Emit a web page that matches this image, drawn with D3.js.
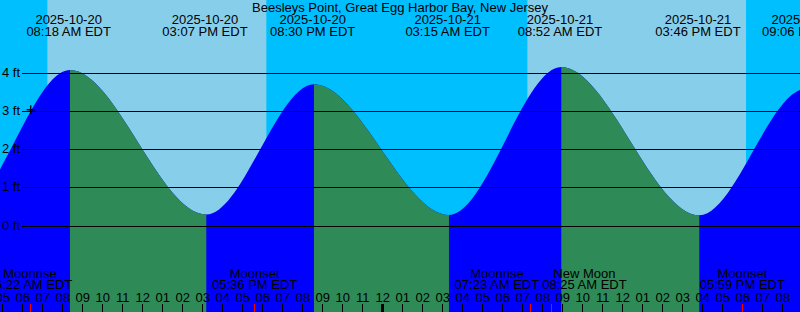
<!DOCTYPE html>
<html><head><meta charset="utf-8">
<script src="https://cdn.jsdelivr.net/npm/d3@7"></script>
<style>html,body{margin:0;padding:0;overflow:hidden;background:#00BFFF}svg{display:block}</style>
</head><body><svg id="c" width="800" height="312"></svg>
<script>
// ---- data ----
const title = "Beesleys Point, Great Egg Harbor Bay, New Jersey";
const tideTimes = ["2025-10-19 20:05","2025-10-20 02:45","2025-10-20 08:18","2025-10-20 15:07","2025-10-20 20:30","2025-10-21 03:15","2025-10-21 08:52","2025-10-21 15:46","2025-10-21 21:06","2025-10-22 03:50"];
const tideHeights = [3.70, 0.32, 4.09, 0.30, 3.72, 0.29, 4.17, 0.28, 3.60, 0.30];
const sunriseTimes = ["2025-10-20 07:14","2025-10-21 07:14"];
const sunsetTimes = ["2025-10-20 18:11","2025-10-21 18:10"];
const moonTimes = ["2025-10-20 06:22","2025-10-20 17:36","2025-10-21 07:23","2025-10-21 08:25","2025-10-21 17:59"];
const moonEvents = ["Moonrise","Moonset","Moonrise","New Moon","Moonset"];
const levelTicks = [0, 1, 2, 3, 4];
const levelLabels = ["0 ft","1 ft","2 ft","3 ft","4 ft"];
const markTime = "2025-10-20 06:24", markLevel = 3.05;
const timeStart = "2025-10-20 04:52", timeEnd = "2025-10-21 20:52";

// ---- setup ----
const W = 800, H = 312;
const parse = d3.timeParse("%Y-%m-%d %H:%M");
const fDate = d3.timeFormat("%Y-%m-%d");
const fTime = d3.timeFormat("%I:%M %p EDT");
const fHour = d3.timeFormat("%I");
const C = {night:"#00BFFF", day:"#87CEEB", flood:"#0000FF", ebb:"#2E8B57"};
const FONT = "'Liberation Sans', Arial, sans-serif";

const x = d3.scaleTime().domain([parse(timeStart), parse(timeEnd)]).range([0, W]);
const y = d3.scaleLinear().domain([0, 4]).range([226, 73.5]);
const tides = tideTimes.map((t, i) => ({t: parse(t), h: tideHeights[i]}));
const shift = 1.3;

const svg = d3.select("#c");
const defs = svg.append("defs");

// sky
svg.append("rect").attr("width", W).attr("height", H).attr("fill", C.night);
svg.selectAll("rect.day").data(sunriseTimes).join("rect").attr("class","day")
  .attr("x", (d) => x(parse(d)))
  .attr("width", (d, i) => x(parse(sunsetTimes[i])) - x(parse(d)))
  .attr("y", 0).attr("height", H).attr("fill", C.day);

// water
const area = d3.area().x(d => x(d.t)).y0(H).y1(d => y(d.h)).curve(d3.curveMonotoneX);
const wg = svg.append("g").attr("transform", `translate(${shift},0)`);
const ebbs = tides.slice(0, -1).map((d, i) => ({a: d.t, b: tides[i+1].t, falling: tides[i+1].h < d.h})).filter(d => d.falling);
defs.append("clipPath").attr("id", "ebbclip").selectAll("rect").data(ebbs).join("rect")
  .attr("x", d => x(d.a)).attr("width", d => x(d.b) - x(d.a)).attr("y", 0).attr("height", H);
wg.append("path").datum(tides).attr("d", area).attr("fill", C.flood);
wg.append("path").datum(tides).attr("d", area).attr("fill", C.ebb).attr("clip-path", "url(#ebbclip)");

// level lines & labels
svg.selectAll("line.lvl").data(levelTicks).join("line").attr("class","lvl")
  .attr("x1", 22).attr("x2", W)
  .attr("y1", d => Math.floor(y(d)) + 0.5).attr("y2", d => Math.floor(y(d)) + 0.5)
  .attr("stroke", "#000").attr("stroke-width", 1);
svg.selectAll("text.lvl").data(levelTicks).join("text").attr("class","lvl")
  .attr("x", 2).attr("y", d => Math.floor(y(d)) + 4)
  .attr("font-family", FONT).attr("font-size", 13).attr("fill", "#000")
  .text((d, i) => levelLabels[i]);

// mark
const mx = x(parse(markTime)), my = y(markLevel);
svg.append("path").attr("d", `M${mx-4},${my}H${mx+4}M${mx},${my-4.5}V${my+4.5}`)
  .attr("stroke", "#000").attr("stroke-width", 1.4).attr("fill", "none");

// title
svg.append("text").attr("x", W/2).attr("y", 12).attr("text-anchor", "middle")
  .attr("font-family", FONT).attr("font-size", 13).attr("fill", "#000").text(title);

// tide event labels
const shown = tides.filter(d => x(d.t) > -10 && x(d.t) < W + 10);
const tl = svg.append("g").attr("font-family", FONT).attr("font-size", 13).attr("text-anchor", "middle").attr("fill", "#000");
shown.forEach(d => {
  tl.append("text").attr("x", x(d.t)).attr("y", 24).text(fDate(d.t));
  tl.append("text").attr("x", x(d.t)).attr("y", 36).text(fTime(d.t));
});

// moon labels (pushed apart when they collide)
const ml = svg.append("g").attr("font-family", FONT).attr("font-size", 13).attr("text-anchor", "middle").attr("fill", "#000");
const moonLabs = moonTimes.map((t, i) => {
  const d = parse(t);
  const a = ml.append("text").attr("y", 278).text(moonEvents[i]);
  const b = ml.append("text").attr("y", 289).text(fTime(d));
  const w = Math.max(a.node().getComputedTextLength(), b.node().getComputedTextLength());
  return {cx: x(d), w, a, b};
}).sort((p, q) => p.cx - q.cx);
for (let iter = 0; iter < 10; iter++) {
  for (let i = 0; i < moonLabs.length - 1; i++) {
    const p = moonLabs[i], q = moonLabs[i+1];
    const need = (p.w + q.w) / 2 + 3;
    const gap = q.cx - p.cx;
    if (gap < need) { const dd = (need - gap) / 2; p.cx -= dd; q.cx += dd; }
  }
}
moonLabs.forEach(l => { l.a.attr("x", l.cx); l.b.attr("x", l.cx); });

// hour axis
const hours = x.ticks(d3.timeHour.every(1));
svg.append("g").attr("font-family", FONT).attr("font-size", 13).attr("text-anchor", "middle").attr("fill", "#000")
  .selectAll("text").data(hours).join("text").attr("x", d => x(d)).attr("y", 302).text(d => fHour(d));
svg.append("g").selectAll("line").data(hours).join("line")
  .attr("x1", d => x(d)).attr("x2", d => x(d)).attr("y1", 304).attr("y2", H)
  .attr("stroke", "#000").attr("stroke-width", d => d.getHours() === 0 ? 3 : 1)
  .attr("shape-rendering", "crispEdges");
svg.append("g").selectAll("line").data(moonTimes).join("line")
  .attr("x1", d => x(parse(d))).attr("x2", d => x(parse(d))).attr("y1", 304).attr("y2", H)
  .attr("stroke", "#FF0000").attr("stroke-width", 1).attr("shape-rendering", "crispEdges");
</script></body></html>
